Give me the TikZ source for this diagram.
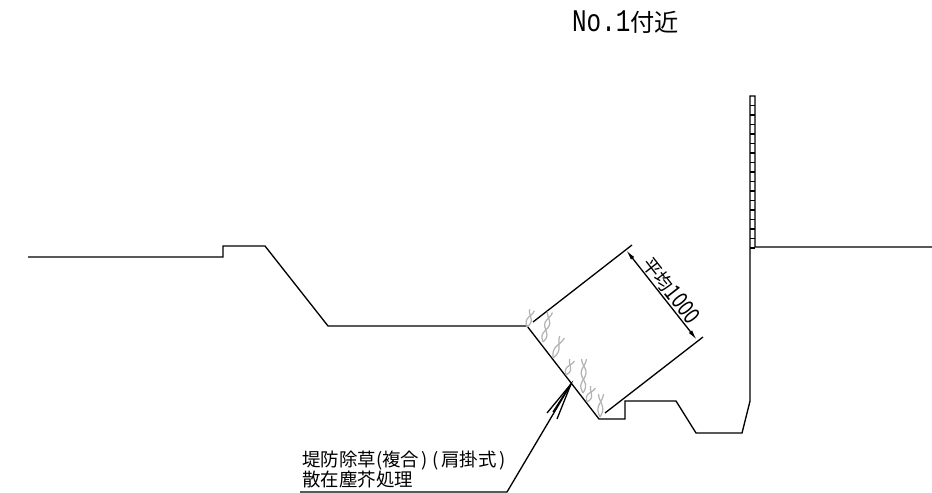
\documentclass[tikz,border=0pt]{standalone}
\usepackage{graphicx}
\usepackage{fontspec}
\usetikzlibrary{arrows.meta}
\newfontfamily\cjk[RawFeature=+halt]{Noto Sans CJK JP}
\newfontfamily\latinmono{Liberation Mono}
\tikzset{
  line/.style={line width=0.75pt},
  grass/.style={line width=0.7pt,gray!60},
  label/.style={inner sep=0pt,font=\fontsize{10.5}{9.7}\selectfont\cjk},
  dimline/.style={line,{Latex[length=6pt,width=2.4pt]}-{Latex[length=6pt,width=2.4pt]}}
}
\begin{document}
\begin{tikzpicture}[x=0.02cm,y=-0.02cm]
        \useasboundingbox (0,0) rectangle (932,493);

        \node[inner sep=0pt,font=\fontsize{13.8}{15}\selectfont] (title) at (625.5,22.5) {\scalebox{1}[1.3]{\latinmono No.1}\cjk 付近};

        \draw[line] (28,257) -- (223,257) -- (223,246) -- (265,246) -- (328,326) -- (527,326)
          -- (599,419) -- (625,419) -- (625,401) -- (676,401) -- (696,433) -- (742,433)
          -- (750,401) -- (750,96) -- (755,96) -- (755,247) -- (932,247);
        \foreach \y in {0,...,15}
          \draw[line] (750,{105.5+\y*9.5}) -- (755,{105.5+\y*9.5});

        \coordinate (upperin) at (533,322);
        \coordinate (upperout) at (632,245);
        \coordinate (lowerin) at (605,413);
        \coordinate (lowerout) at (703,337);
        \coordinate (dimtop) at (626,250);
        \coordinate (dimbottom) at (697,340);
        \draw[line] (upperin) -- (upperout);
        \draw[line] (lowerin) -- (lowerout);
        \path (dimtop) edge [dimline] (dimbottom);
        \node[label,rotate=-52] (width) at (671,290) {平均\scalebox{1}[1.25]{1000}};

        \foreach \bx/\by/\tx/\ty/\turn in {527/327/532/310/270,543/342/550/312/450,553/358/562/337/270,566/375/572/360/270,583/393/584/359/450,587/402/593/387/270,600/417/601/394/270}
          \foreach \s in {1,-1} {
            \pgfmathsetmacro\dx{\tx-\bx}
            \pgfmathsetmacro\dy{\ty-\by}
            \pgfmathsetmacro\len{veclen(\dx,\dy)}
            \draw[grass] plot[domain=0:1,samples=24,smooth,variable=\t]
              ({\bx+\t*\dx-\s*2.4*sin(\t*\turn)*\dy/\len},{\by+\t*\dy+\s*2.4*sin(\t*\turn)*\dx/\len});
          }

        \node[label,align=left,anchor=west] (work) at (302,469.5) {堤防除草(複合\kern1.5pt)\kern2.5pt(\kern1.5pt肩掛式\kern1.5pt)\\散在塵芥処理};

        \coordinate (leaderstart) at (300,492);
        \coordinate (leaderbend) at (507,492);
        \coordinate (apex) at (571,384);
        \coordinate (barba) at (547,413);
        \coordinate (barbb) at (557,419);
        \coordinate (barbc) at (553,412);
        \draw[line] (leaderstart) -- (leaderbend) -- (apex);
        \draw[line] (barba) -- (apex) -- (barbb);
        \draw[line] (apex) -- (barbc);
      \end{tikzpicture}
\end{document}
